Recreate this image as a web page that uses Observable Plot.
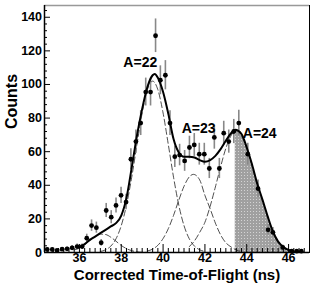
<!DOCTYPE html>
<html><head><meta charset="utf-8">
<script src="https://cdn.jsdelivr.net/npm/d3@7"></script>
<script src="https://cdn.jsdelivr.net/npm/@observablehq/plot@0.6"></script>
<style>body{margin:0;background:#fff} #chart svg{display:block}</style>
</head><body><div id="chart"></div>
<script>
// measured counts
const countsX = [34.46,34.70,34.93,35.17,35.41,35.65,35.89,36.13,36.35,36.58,36.81,37.04,37.28,37.52,37.75,37.99,38.23,38.46,38.70,38.93,39.17,39.40,39.64,39.87,40.11,40.33,40.56,40.79,41.03,41.26,41.49,41.73,41.97,42.21,42.45,42.69,42.90,43.14,43.38,43.62,44.05,44.54,45.02,45.25,45.72,46.15,46.39,46.61];
const countsY = [1.8,1.8,1.2,2.0,2.2,2.8,3.5,3.5,8.5,16,14.8,5.8,25,21,28,34,30,55.5,66,77,95.5,95.5,129,102.5,105.5,77,57,58,54.5,62.5,64,58.5,58.5,50,68.5,50,71,66,72,77,58.5,38,13.5,12,3,0.8,0.8,0.8];
const countsErr = [1.0,1.0,0.8,1.0,1.1,1.3,1.5,1.5,2.4,3.4,3.3,2.0,4.2,3.9,4.5,4.9,4.6,6.3,6.9,7.4,8.3,8.3,10,8.6,8.7,7.4,6.4,6.4,6.2,6.7,6.8,6.5,6.5,6.0,7.0,6.0,7.1,6.9,7.2,7.7,6.5,5.2,3.1,2.9,1.4,0.6,0.6,0.6];

// total fit (solid)
const fitX = [36.0,36.25,36.5,36.75,37.0,37.25,37.5,37.75,38.0,38.25,38.5,38.75,39.0,39.25,39.5,39.6,39.75,40.0,40.25,40.5,40.75,41.0,41.25,41.5,41.75,42.0,42.25,42.5,42.75,43.0,43.25,43.45,43.75,44.0,44.25,44.5,44.75,45.0,45.25,45.5,45.75,46.0,46.25];
const fitY = [3,5,7.5,9.5,11.5,13.5,15.5,17.5,22,32.5,50.5,69.5,85.5,98.5,105.5,106.3,104,95.5,82.5,67.5,59.5,57,57,56.5,55,54,55,57.5,61.5,66.5,71,73,70.5,62.5,52.5,41,31.5,21.5,12.5,6.5,3.3,1.5,0.8];

// component gaussians (dashed)
const g21X = [35.75,36.0,36.25,36.5,36.75,37.0,37.25,37.5,37.75,38.0,38.25,38.5,38.75,39.0,39.25];
const g21Y = [1.5,2.6,4.7,7.2,9.5,10.9,10.7,9.1,6.7,4.2,2.3,1.1,0.4,0.15,0.04];
const g22X = [37.0,37.25,37.5,37.75,38.0,38.25,38.5,38.75,39.0,39.25,39.5,39.75,40.0,40.25,40.5,40.75,41.0,41.25,41.5,41.75,42.0];
const g22Y = [0.6,1.6,3.8,8.2,16,28.2,44.8,64.2,83,96.9,102,96.9,83,64.2,44.8,28.2,16,8.2,3.8,1.6,0.6];
const g23X = [39.25,39.5,39.75,40.0,40.25,40.5,40.75,41.0,41.25,41.45,41.75,42.0,42.25,42.5,42.75,43.0,43.25,43.5,43.75];
const g23Y = [0.9,2.0,4.3,8.3,14.2,22.1,31.1,39.4,45,46.5,43.2,34,26,17.5,10.5,5.8,3.3,1.5,0.6];
const g24X = [41.25,41.5,41.75,42.0,42.25,42.5,42.75,43.0,43.25,43.45,43.75,44.0,44.25,44.5,44.75,45.0,45.25,45.5,45.75,46.0,46.25,46.5];
const g24Y = [3.5,6.9,12,18,27.5,39,51,62,69.5,72.5,69.4,61.7,51.5,40.5,31,21,12,6,2.8,1.0,0.3,0.1];
const shadeFrom = 43.45;

// labels & ticks
const peakLabels = ["A=22","A=23","A=24"];
const peakLabelX = [38.91,41.70,44.62];
const peakLabelY = [112.8,74.0,71.0];
const xDomain = [34.33,47];
const yDomain = [0,147];
const xMajor = [36,38,40,42,44,46];
const xMinor = [34.5,34.75,35,35.25,35.5,35.75,36.25,36.5,36.75,37,37.25,37.5,37.75,38.25,38.5,38.75,39,39.25,39.5,39.75,40.25,40.5,40.75,41,41.25,41.5,41.75,42.25,42.5,42.75,43,43.25,43.5,43.75,44.25,44.5,44.75,45,45.25,45.5,45.75,46.25,46.5,46.75];
const yMajor = [0,20,40,60,80,100,120,140];
const yMinor = [4,8,12,16,24,28,32,36,44,48,52,56,64,68,72,76,84,88,92,96,104,108,112,116,124,128,132,136,144];
const xTitle = "Corrected Time-of-Flight (ns)";
const yTitle = "Counts";

const pts = countsX.map((x,i)=>({x, y: countsY[i], lo: countsY[i]-countsErr[i], hi: countsY[i]+countsErr[i]}));
const fit = fitX.map((x,i)=>({x, y: fitY[i]}));
const comp = (X,Y)=>X.map((x,i)=>({x, y: Y[i]}));
const g21 = comp(g21X,g21Y), g22 = comp(g22X,g22Y), g23 = comp(g23X,g23Y), g24 = comp(g24X,g24Y);
const shade = g24.filter(d=>d.x>=shadeFrom);
const labs = peakLabels.map((t,i)=>({t, x: peakLabelX[i], y: peakLabelY[i]}));

const W = 332, H = 295, mL = 44, mR = 23, mT = 5, mB = 43;
const fw = W-mL-mR, fh = H-mT-mB;
const dash = {stroke:"#222", strokeWidth:0.8, strokeDasharray:"6,3", curve:"monotone-x"};

const chart = Plot.plot({
  width: W, height: H,
  marginLeft: mL, marginRight: mR, marginTop: mT, marginBottom: mB,
  style: {fontFamily: "Liberation Sans, Arial, sans-serif", fontWeight: "bold", background: "#fff"},
  x: {domain: xDomain, axis: null},
  y: {domain: yDomain, axis: null},
  marks: [
    Plot.areaY(shade, {x:"x", y:"y", fill:"url(#dotfill)", curve:"monotone-x"}),
    Plot.line(g21, {x:"x", y:"y", ...dash}),
    Plot.line(g22, {x:"x", y:"y", ...dash}),
    Plot.line(g23, {x:"x", y:"y", ...dash}),
    Plot.line(g24, {x:"x", y:"y", ...dash}),
    Plot.ruleX(pts, {x:"x", y1:"lo", y2:"hi", stroke:"#888", strokeWidth:1.6}),
    Plot.line(fit, {x:"x", y:"y", stroke:"#000", strokeWidth:2, curve:"monotone-x"}),
    Plot.dot(pts, {x:"x", y:"y", r:2.4, fill:"#000", stroke:"none"}),
    Plot.text(labs, {x:"x", y:"y", text:"t", fontSize:14, fontWeight:"bold", fill:"#000"}),
    // frame
    Plot.frame({stroke:"#000", strokeWidth:1}),
    Plot.ruleY([yDomain[1]], {stroke:"#999", strokeWidth:1.5}),
    Plot.ruleX([xDomain[0]], {stroke:"#000", strokeWidth:1.5}),
    Plot.ruleY([yDomain[0]], {stroke:"#000", strokeWidth:1.5}),
    // ticks (inward, ROOT style)
    Plot.tickX(xMajor, {x:d=>d, insetTop: fh-8, stroke:"#000", strokeWidth:1}),
    Plot.tickX(xMinor, {x:d=>d, insetTop: fh-4, stroke:"#000", strokeWidth:1}),
    Plot.tickY(yMajor, {y:d=>d, insetRight: fw-6, stroke:"#000", strokeWidth:1}),
    Plot.tickY(yMinor, {y:d=>d, insetRight: fw-3, stroke:"#000", strokeWidth:1}),
    // tick labels
    Plot.text(xMajor, {x:d=>d, text:d=>String(d), frameAnchor:"bottom", dy:9.5, fontSize:12.5, fontWeight:"bold", fill:"#000"}),
    Plot.text(yMajor, {y:d=>d, text:d=>String(d), frameAnchor:"left", textAnchor:"end", dx:-2.5, fontSize:12.5, fontWeight:"bold", fill:"#000"}),
    // axis titles
    Plot.text([xTitle], {frameAnchor:"bottom", dy:27.2, fontSize:15, fontWeight:"bold", fill:"#000"}),
    Plot.text([yTitle], {frameAnchor:"left", dx:-32.4, rotate:-90, fontSize:16, fontWeight:"bold", fill:"#000"})
  ]
});

const ns = "http://www.w3.org/2000/svg";
const defs = document.createElementNS(ns, "defs");
const pat = document.createElementNS(ns, "pattern");
pat.setAttribute("id","dotfill"); pat.setAttribute("width","3"); pat.setAttribute("height","3");
pat.setAttribute("patternUnits","userSpaceOnUse");
const r1 = document.createElementNS(ns,"rect");
r1.setAttribute("width","3"); r1.setAttribute("height","3"); r1.setAttribute("fill","#a0a0a0");
const r2 = document.createElementNS(ns,"rect");
r2.setAttribute("x","1"); r2.setAttribute("y","1"); r2.setAttribute("width","1"); r2.setAttribute("height","1"); r2.setAttribute("fill","#d4d4d4");
pat.appendChild(r1); pat.appendChild(r2); defs.appendChild(pat);
chart.insertBefore(defs, chart.firstChild);
document.getElementById("chart").appendChild(chart);
</script></body></html>
